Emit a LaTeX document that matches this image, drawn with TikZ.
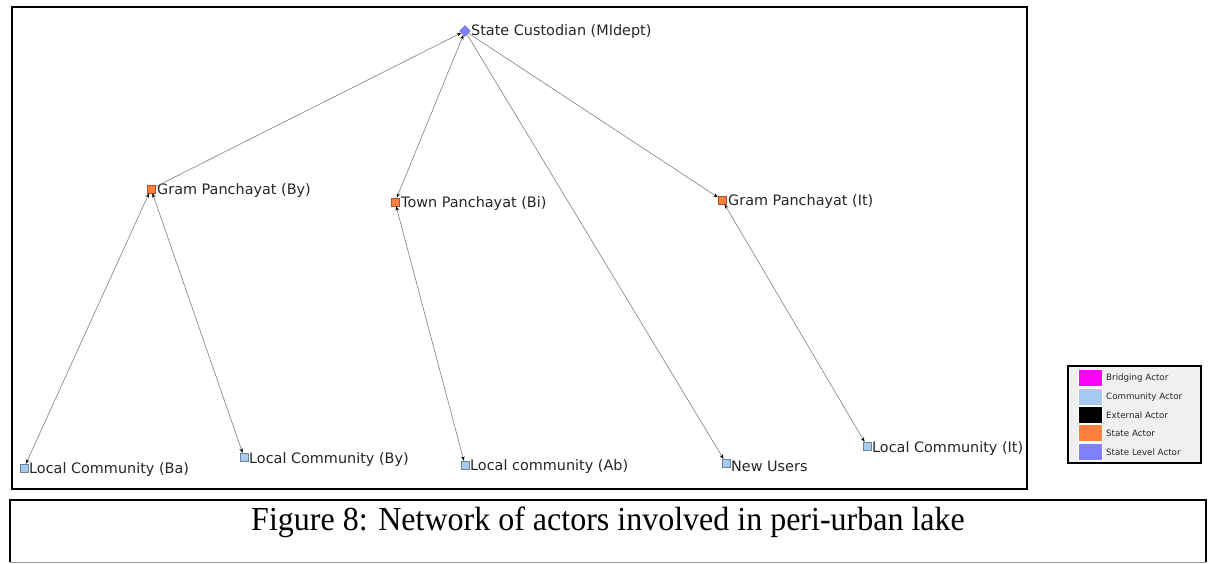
\documentclass[tikz,border=0pt]{standalone}
\usepackage{fontspec}
\setmainfont{Liberation Serif}
\newfontfamily\netfont{DejaVu Sans}
\usetikzlibrary{arrows.meta,shapes.geometric}

\definecolor{stateC}{HTML}{FF7F3F}
\definecolor{commC}{HTML}{A6CAF0}
\definecolor{levelC}{HTML}{8080FF}
\definecolor{bridgeC}{HTML}{FF00FF}
\definecolor{extC}{HTML}{000000}
\definecolor{edgeC}{HTML}{808080}

\tikzset{
  actor/.style={rectangle, minimum size=8pt, inner sep=0pt,
    fill=#1, draw=#1!65!black, line width=0.5pt},
  levelactor/.style={diamond, minimum size=11pt, inner sep=0pt,
    fill=levelC, draw=levelC!70!black, line width=0.4pt},
  lab/.style={font=\netfont\fontsize{14.4}{16}\selectfont, inner sep=0pt,
    anchor=west, text=black!85},
  edge/.style={draw=edgeC, line width=0.6pt,
    -{Stealth[length=4.5pt,width=3.5pt,black]}},
  biedge/.style={draw=edgeC, line width=0.6pt,
    {Stealth[length=4.5pt,width=3.5pt,black]}-{Stealth[length=4.5pt,width=3.5pt,black]}},
  swatch/.style={rectangle, minimum width=24pt, minimum height=17pt,
    inner sep=0pt, fill=#1, draw=white, line width=0.6pt},
  legtext/.style={font=\netfont\fontsize{8.7}{10}\selectfont, anchor=west,
    inner sep=0pt, text=black!85},
}

\begin{document}
\begin{tikzpicture}[x=1pt,y=-1pt]
\useasboundingbox (0,0) rectangle (1214,563);
\fill[white] (0,0) rectangle (1214,563);

% network frame
\draw[line width=1.6pt] (12,7) rectangle (1027,489);

% actors
\node[levelactor] (sc) at (465,31) {};
\node[actor=stateC] (gpby) at (151,189) {};
\node[actor=stateC] (tpbi) at (395,202) {};
\node[actor=stateC] (gpit) at (722,200) {};
\node[actor=commC] (lcba) at (24,468) {};
\node[actor=commC] (lcby) at (244,457) {};
\node[actor=commC] (lcab) at (465,465) {};
\node[actor=commC] (nu) at (726,463) {};
\node[actor=commC] (lcit) at (867,446) {};

% actor labels
\node[lab] (scl) at (471,32) {State Custodian (MIdept)};
\node[lab] (gpbyl) at (157,191) {Gram Panchayat (By)};
\node[lab] (tpbil) at (401,204) {Town Panchayat (Bi)};
\node[lab] (gpitl) at (728,202) {Gram Panchayat (It)};
\node[lab] (lcbal) at (29,470) {Local Community (Ba)};
\node[lab] (lcbyl) at (249,460) {Local Community (By)};
\node[lab] (lcabl) at (470,467) {Local community (Ab)};
\node[lab] (nul) at (731,466) {New Users};
\node[lab] (lcitl) at (872,449) {Local Community (It)};

% ties
\draw[edge] (gpby) -- (sc);
\draw[biedge] (sc) -- (tpbi);
\draw[edge] (sc) -- (gpit);
\draw[edge] (sc) -- (nu);
\draw[biedge] (gpby) -- (lcba);
\draw[biedge] (gpby) -- (lcby);
\draw[biedge] (tpbi) -- (lcab);
\draw[biedge] (gpit) -- (lcit);

% legend
\draw[fill=black!6, draw=black, line width=1.2pt] (1068,366) rectangle (1201,463);
\node[swatch=bridgeC] (s1) at (1090,378) {};
\node[swatch=commC]   (s2) at (1090,397) {};
\node[swatch=extC]    (s3) at (1090,415) {};
\node[swatch=stateC]  (s4) at (1090,433) {};
\node[swatch=levelC]  (s5) at (1090,452) {};
\node[legtext] (t1) at (1106,378) {Bridging Actor};
\node[legtext] (t2) at (1106,397) {Community Actor};
\node[legtext] (t3) at (1106,415) {External Actor};
\node[legtext] (t4) at (1106,433) {State Actor};
\node[legtext] (t5) at (1106,452) {State Level Actor};

% caption box
\draw[line width=1.4pt] (10,562) -- (10,500) -- (1206,500) -- (1206,562);
\draw[black!40, line width=0.8pt] (10,562) -- (1206,562);
\node[font=\fontsize{32}{34}\selectfont, inner sep=0pt, yscale=1.05] (cap) at (608,522)
  {Figure 8: Network of actors involved in peri-urban lake};
\end{tikzpicture}
\end{document}
